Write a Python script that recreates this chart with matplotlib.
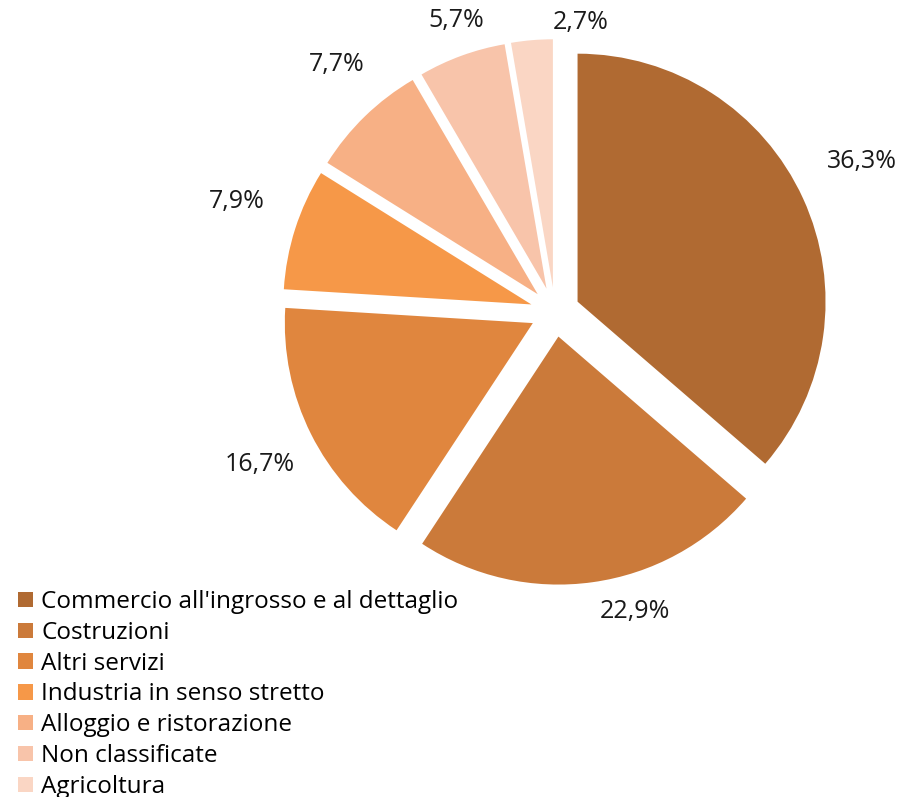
import matplotlib.pyplot as plt
import numpy as np

plt.rcParams['font.family'] = ['Open Sans', 'DejaVu Sans']

# quote per settore di attivita
settori = [
    "Commercio all'ingrosso e al dettaglio",
    "Costruzioni",
    "Altri servizi",
    "Industria in senso stretto",
    "Alloggio e ristorazione",
    "Non classificate",
    "Agricoltura",
]
quote = [36.3, 22.9, 16.7, 7.9, 7.7, 5.7, 2.7]
colori = ["#B06A32", "#CB7A3A", "#E0863E", "#F69848", "#F7B085", "#F8C4AA", "#FAD6C4"]

# posizione delle etichette: distanza dal centro (in raggi) e scostamento angolare
dist_etichette = [1.38, 1.25, 1.34, 1.36, 1.33, 1.24, 1.17]
shift_etichette = [1.5, 7.0, 0.8, -1.4, -2.8, -1.3, -9.9]

W, H = 912, 797
fig = plt.figure(figsize=(W / 100, H / 100), dpi=100)
ax = fig.add_axes([0, 0, 1, 1])

cx, cy, r = 555, H - 312, 248
# explode di pie e' in unita' dati, quindi va scalato col raggio
wedges, _ = ax.pie(quote, colors=colori, startangle=90, counterclock=False,
                   explode=[0.1 * r] * len(quote), center=(cx, cy), radius=r,
                   wedgeprops=dict(linewidth=0))
ax.set_xlim(0, W)
ax.set_ylim(0, H)
ax.set_aspect('equal')
ax.axis('off')

for w, q, d, s in zip(wedges, quote, dist_etichette, shift_etichette):
    ang = np.deg2rad((w.theta1 + w.theta2) / 2 + s)
    ax.text(cx + d * r * np.cos(ang), cy + d * r * np.sin(ang),
            f"{q:.1f}%".replace('.', ','), ha='center', va='center',
            fontsize=18, color='#1a1a1a')

fig.legend(wedges, settori, loc='upper left', bbox_to_anchor=(18 / W, 1 - 590 / H),
           frameon=False, fontsize=17.5, handlelength=0.6, handleheight=0.6,
           handletextpad=0.35, labelspacing=0.28, borderpad=0, borderaxespad=0)

plt.savefig("out.png", dpi=100)
